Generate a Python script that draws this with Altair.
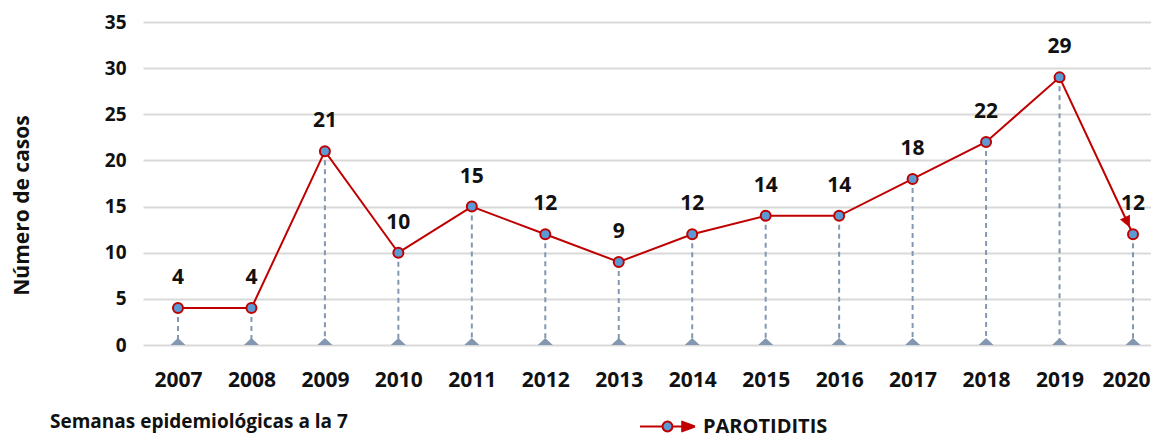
import math
import altair as alt
import pandas as pd

# ---- data ----
years = [2007, 2008, 2009, 2010, 2011, 2012, 2013, 2014, 2015, 2016, 2017, 2018, 2019, 2020]
cases = [4, 4, 21, 10, 15, 12, 9, 12, 14, 14, 18, 22, 29, 12]
series_name = "PAROTIDITIS"
y_title = "Número de casos"
footnote = "Semanas epidemiológicas a la 7"
y_ticks = [0, 5, 10, 15, 20, 25, 30, 35]

df = pd.DataFrame({"year": years, "cases": cases, "zero": [0] * len(years), "serie": series_name})
last = df.tail(1)

# ---- layout / style ----
W, H = 1008, 323
x_dom = [2006.524, 2020.245]
y_dom = [0, 35]
FONT = "Open Sans"
RED = "#C00000"
BLUE = "#5B9BD5"
STEM = "#8497B0"
GRID = "#D9D9D9"
INK = "#111111"

# arrow angle derived from the last segment's pixel slope
dx_px = W / (x_dom[1] - x_dom[0]) * (years[-1] - years[-2])
dy_px = H / (y_dom[1] - y_dom[0]) * (cases[-2] - cases[-1])
arrow_angle = (math.degrees(math.atan2(dy_px, dx_px)) + 90) % 360

x_enc = alt.X(
    "year:Q",
    scale=alt.Scale(domain=x_dom, nice=False, zero=False),
    axis=alt.Axis(values=years, format="d", grid=False, ticks=False, domain=False,
                  labelFont=FONT, labelFontSize=21, labelFontWeight="bold",
                  labelColor=INK, labelPadding=24, title=None, labelFlush=False,
                  labelOffset=alt.condition(f"datum.value == {years[-1]}", alt.value(-7), alt.value(0))),
)
y_axis = alt.Axis(values=y_ticks, grid=True, gridColor=GRID, gridWidth=2, ticks=False, domain=False,
                  labelFont=FONT, labelFontSize=19, labelFontWeight="bold", labelColor=INK,
                  labelPadding=17, title=y_title, titleFont=FONT, titleFontSize=21,
                  titleFontWeight="bold", titleColor=INK, titleX=-121, titleY=183,
                  titleBaseline="middle", titleAngle=270)
y_scale = alt.Scale(domain=y_dom, nice=False)

base = alt.Chart(df)

stems = base.mark_rule(color=STEM, strokeWidth=2, strokeDash=[5, 4]).encode(
    x=x_enc, y=alt.Y("cases:Q", scale=y_scale, axis=y_axis), y2="zero:Q"
)

tri_path = "M-1,0L1,0L0,-0.95Z"
triangles = base.mark_point(shape=tri_path, filled=True, color=STEM, size=225, opacity=1).encode(
    x=x_enc, y=alt.Y("zero:Q", scale=y_scale, axis=y_axis)
)

line = base.mark_line(color=RED, strokeWidth=2).encode(
    x=x_enc, y=alt.Y("cases:Q", scale=y_scale, axis=y_axis)
)

arrow_path = "M0,0.75L-0.55,1.9L0.55,1.9Z"
arrow = alt.Chart(last).mark_point(shape=arrow_path, filled=True, color=RED, size=400,
                                   opacity=1, angle=arrow_angle).encode(
    x=x_enc, y=alt.Y("cases:Q", scale=y_scale, axis=y_axis)
)

legend_symbol = ("M-1,0L-0.18,0M0.18,0L0.55,0"
                 "M-0.18,0A0.18,0.18 0 1,0 0.18,0A0.18,0.18 0 1,0 -0.18,0"
                 "M0.5,-0.18L1,0M0.5,0.18L1,0M0.5,-0.12L1,0M0.5,0.12L1,0"
                 "M0.5,-0.06L1,0M0.5,0.06L1,0M0.5,0L1,0")
points = base.mark_point(filled=True, fill=BLUE, size=100, strokeWidth=2, opacity=1).encode(
    x=x_enc,
    y=alt.Y("cases:Q", scale=y_scale, axis=y_axis),
    stroke=alt.Stroke("serie:N", scale=alt.Scale(domain=[series_name], range=[RED]),
                      legend=alt.Legend(title=None, orient="none", legendX=496, legendY=376,
                                        symbolType=legend_symbol, symbolSize=3025,
                                        symbolStrokeWidth=2, symbolFillColor=BLUE,
                                        symbolOpacity=1, labelFont=FONT, labelFontSize=20,
                                        labelFontWeight="bold", labelColor=INK,
                                        labelOffset=7, padding=0)),
)

labels = base.mark_text(dy=-24, baseline="alphabetic", font=FONT, fontSize=21,
                        fontWeight="bold", color=INK).encode(
    x=x_enc, y=alt.Y("cases:Q", scale=y_scale, axis=y_axis), text="cases:Q"
)

chart = alt.layer(stems, triangles, line, arrow, points, labels).properties(
    width=W, height=H,
    autosize=alt.AutoSizeParams(type="none"),
    padding={"left": 135, "top": 14, "right": 0, "bottom": 92},
    title=alt.TitleParams(footnote, orient="bottom", anchor="start", frame="group", dx=-93,
                          offset=-24, font=FONT, fontSize=19, fontWeight="bold", color=INK),
).configure_view(stroke=None)

chart.save("out.html", embed_options={"renderer": "svg", "actions": False})
